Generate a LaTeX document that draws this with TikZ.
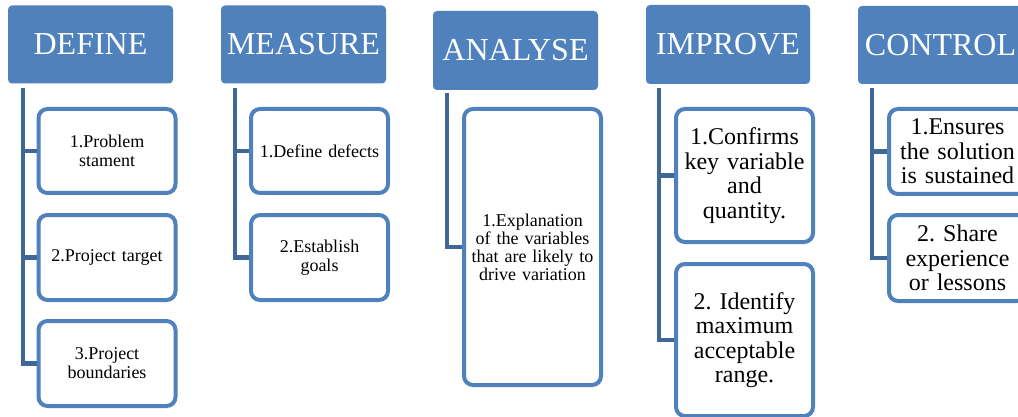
\documentclass[tikz,border=0pt]{standalone}
\usepackage{fontspec}
\setmainfont{Liberation Serif}
\definecolor{hdrblue}{HTML}{4F81BD}
\definecolor{trunkblue}{HTML}{3F6797}
\begin{document}
\frenchspacing
\begin{tikzpicture}[x=1pt,y=-1pt,
  hdr/.style={fill=hdrblue, rounded corners=4pt, minimum width=165pt, minimum height=78pt,
    inner sep=0pt, text=white, font=\fontsize{32}{34}\selectfont},
  box/.style={draw=hdrblue, line width=4pt, fill=white, rounded corners=9pt, minimum width=137pt,
    inner sep=0pt, align=center, text width=132pt},
  small/.style={font=\fontsize{18}{19}\selectfont},
  big/.style={font=\fontsize{24}{24.5}\selectfont},
  trunk/.style={draw=trunkblue, line width=4.5pt}]
\clip (0,0) rectangle (1018,417);
\fill[white] (0,0) rectangle (1018,417);
% headers
\node[hdr] (hD) at (90.5,44.5) {DEFINE};
\node[hdr] (hM) at (303.5,44.5) {MEASURE};
\node[hdr, minimum height=79pt] (hA) at (515.5,50.5) {ANALYSE};
\node[hdr, minimum height=79pt, minimum width=164pt] (hI) at (728,44.5) {IMPROVE};
\node[hdr] (hC) at (940.5,45) {CONTROL};
% children
\node[box, small, minimum height=84pt] (d1) at (107,151) {1.Problem\\stament};
\node[box, small, minimum height=85pt] (d2) at (107,257.5) {2.Project target};
\node[box, small, minimum height=85pt] (d3) at (107,363.5) {3.Project\\boundaries};
\node[box, small, minimum height=84pt] (m1) at (319.5,151) {1.Define defects};
\node[box, small, minimum height=85pt] (m2) at (319.5,257.5) {2.Establish\\goals};
\node[box, font=\fontsize{18}{18}\selectfont, minimum height=276pt] (a1) at (532.5,247) {1.Explanation\\of the variables\\that are likely to\\drive variation};
\node[box, big, minimum height=133pt] (i1) at (744.5,175.5) {1.Confirms\\key variable\\and\\quantity.};
\node[box, big, minimum height=152pt] (i2) at (744.5,340) {2. Identify\\maximum\\acceptable\\range.};
\node[box, big, minimum height=85pt] (c1) at (957.5,151.5) {1.Ensures\\the solution\\is sustained};
\node[box, big, minimum height=86pt] (c2) at (957.5,258) {2. Share\\experience\\or lessons};
% trunks
\coordinate (tD) at ([xshift=15pt,yshift=-4pt]hD.south west);
\coordinate (tM) at ([xshift=14pt,yshift=-4pt]hM.south west);
\coordinate (tA) at ([xshift=14pt,yshift=-3pt]hA.south west);
\coordinate (tI) at ([xshift=13pt,yshift=-4pt]hI.south west);
\coordinate (tC) at ([xshift=14pt,yshift=-4pt]hC.south west);
\draw[trunk] (tD) |- (d3.west);
\draw[trunk] (tD) |- (d2.west);
\draw[trunk] (tD) |- (d1.west);
\draw[trunk] (tM) |- (m2.west);
\draw[trunk] (tM) |- (m1.west);
\draw[trunk] (tA) |- (a1.west);
\draw[trunk] (tI) |- (i2.west);
\draw[trunk] (tI) |- (i1.west);
\draw[trunk] (tC) |- (c2.west);
\draw[trunk] (tC) |- (c1.west);
\end{tikzpicture}
\end{document}
